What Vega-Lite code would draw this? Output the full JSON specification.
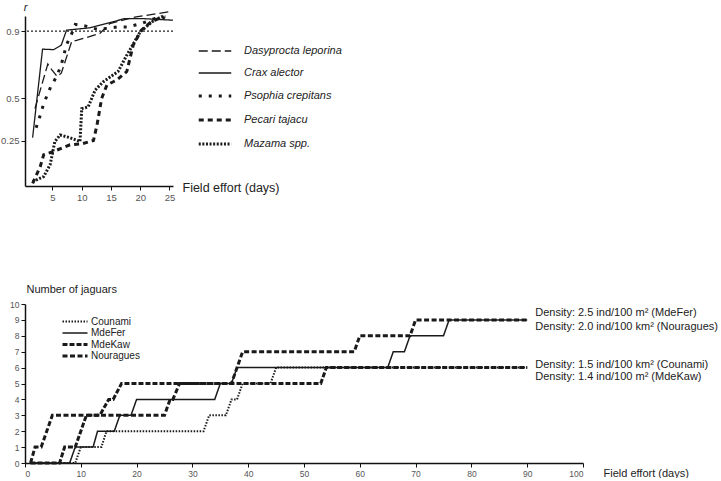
{
  "$schema": "https://vega.github.io/schema/vega-lite/v6.json",
  "padding": {"left": 0, "top": 1, "right": 0, "bottom": 0},
  "spacing": 81,
  "background": "white",
  "resolve": {
    "scale": {"strokeDash": "independent", "strokeWidth": "independent"},
    "legend": {"strokeDash": "independent", "strokeWidth": "independent"}
  },
  "config": {
    "font": "Liberation Sans",
    "view": {"stroke": null},
    "axis": {"domainColor": "#111", "domainWidth": 1.5, "tickColor": "#111", "tickWidth": 1, "tickSize": 4, "labelPadding": 2, "labelColor": "#555", "titleColor": "#222", "titleFontWeight": "normal", "grid": false, "labelOverlap": false, "labelFont": "Liberation Sans", "titleFont": "Liberation Sans"},
    "legend": {"labelFont": "Liberation Sans", "labelColor": "#222"},
    "text": {"font": "Liberation Sans"}
  },
  "datasets": {
    "top": [
      {"species": "Dasyprocta leporina", "day": 2.0, "r": 0.44},
      {"species": "Dasyprocta leporina", "day": 4.2, "r": 0.705},
      {"species": "Dasyprocta leporina", "day": 4.9, "r": 0.67},
      {"species": "Dasyprocta leporina", "day": 5.8, "r": 0.63},
      {"species": "Dasyprocta leporina", "day": 6.5, "r": 0.65},
      {"species": "Dasyprocta leporina", "day": 8.3, "r": 0.84},
      {"species": "Dasyprocta leporina", "day": 9.1, "r": 0.845},
      {"species": "Dasyprocta leporina", "day": 13.1, "r": 0.886},
      {"species": "Dasyprocta leporina", "day": 14.8, "r": 0.945},
      {"species": "Dasyprocta leporina", "day": 19.3, "r": 0.985},
      {"species": "Dasyprocta leporina", "day": 25.0, "r": 1.015},
      {"species": "Crax alector", "day": 1.6, "r": 0.267},
      {"species": "Crax alector", "day": 3.3, "r": 0.793},
      {"species": "Crax alector", "day": 5.2, "r": 0.79},
      {"species": "Crax alector", "day": 6.5, "r": 0.817},
      {"species": "Crax alector", "day": 7.4, "r": 0.906},
      {"species": "Crax alector", "day": 11.4, "r": 0.92},
      {"species": "Crax alector", "day": 17.4, "r": 0.975},
      {"species": "Crax alector", "day": 20.2, "r": 0.975},
      {"species": "Crax alector", "day": 25.6, "r": 0.965},
      {"species": "Psophia crepitans", "day": 2.2, "r": 0.326},
      {"species": "Psophia crepitans", "day": 2.9, "r": 0.40},
      {"species": "Psophia crepitans", "day": 3.5, "r": 0.47},
      {"species": "Psophia crepitans", "day": 4.7, "r": 0.57},
      {"species": "Psophia crepitans", "day": 5.7, "r": 0.63},
      {"species": "Psophia crepitans", "day": 6.5, "r": 0.70},
      {"species": "Psophia crepitans", "day": 7.4, "r": 0.82},
      {"species": "Psophia crepitans", "day": 8.3, "r": 0.886},
      {"species": "Psophia crepitans", "day": 8.9, "r": 0.94},
      {"species": "Psophia crepitans", "day": 10.7, "r": 0.93},
      {"species": "Psophia crepitans", "day": 12.8, "r": 0.91},
      {"species": "Psophia crepitans", "day": 16.2, "r": 0.925},
      {"species": "Psophia crepitans", "day": 17.9, "r": 0.925},
      {"species": "Psophia crepitans", "day": 20.2, "r": 0.945},
      {"species": "Psophia crepitans", "day": 22.5, "r": 0.975},
      {"species": "Psophia crepitans", "day": 24.2, "r": 0.98},
      {"species": "Pecari tajacu", "day": 1.6, "r": -0.004},
      {"species": "Pecari tajacu", "day": 2.9, "r": 0.095},
      {"species": "Pecari tajacu", "day": 3.5, "r": 0.166},
      {"species": "Pecari tajacu", "day": 5.1, "r": 0.184},
      {"species": "Pecari tajacu", "day": 8.0, "r": 0.225},
      {"species": "Pecari tajacu", "day": 10.0, "r": 0.23},
      {"species": "Pecari tajacu", "day": 12.0, "r": 0.25},
      {"species": "Pecari tajacu", "day": 12.6, "r": 0.34},
      {"species": "Pecari tajacu", "day": 13.4, "r": 0.5},
      {"species": "Pecari tajacu", "day": 14.3, "r": 0.58},
      {"species": "Pecari tajacu", "day": 16.0, "r": 0.61},
      {"species": "Pecari tajacu", "day": 17.7, "r": 0.66},
      {"species": "Pecari tajacu", "day": 18.8, "r": 0.817},
      {"species": "Pecari tajacu", "day": 20.2, "r": 0.906},
      {"species": "Pecari tajacu", "day": 22.0, "r": 0.96},
      {"species": "Pecari tajacu", "day": 24.0, "r": 0.985},
      {"species": "Mazama spp.", "day": 1.6, "r": 0.006},
      {"species": "Mazama spp.", "day": 3.5, "r": 0.036},
      {"species": "Mazama spp.", "day": 4.6, "r": 0.107},
      {"species": "Mazama spp.", "day": 5.4, "r": 0.244},
      {"species": "Mazama spp.", "day": 6.3, "r": 0.283},
      {"species": "Mazama spp.", "day": 8.0, "r": 0.267},
      {"species": "Mazama spp.", "day": 9.7, "r": 0.244},
      {"species": "Mazama spp.", "day": 10.0, "r": 0.44},
      {"species": "Mazama spp.", "day": 11.1, "r": 0.45},
      {"species": "Mazama spp.", "day": 12.3, "r": 0.55},
      {"species": "Mazama spp.", "day": 13.7, "r": 0.60},
      {"species": "Mazama spp.", "day": 16.2, "r": 0.66},
      {"species": "Mazama spp.", "day": 17.7, "r": 0.757},
      {"species": "Mazama spp.", "day": 20.0, "r": 0.896},
      {"species": "Mazama spp.", "day": 22.0, "r": 0.955},
      {"species": "Mazama spp.", "day": 23.6, "r": 0.985},
      {"species": "Mazama spp.", "day": 24.3, "r": 0.985}
    ],
    "bottom": [
      {"site": "Counami", "day": 1, "n": 0}, {"site": "Counami", "day": 9, "n": 0}, {"site": "Counami", "day": 10, "n": 1}, {"site": "Counami", "day": 13.7, "n": 1}, {"site": "Counami", "day": 14.6, "n": 2}, {"site": "Counami", "day": 32, "n": 2}, {"site": "Counami", "day": 33, "n": 3}, {"site": "Counami", "day": 36, "n": 3}, {"site": "Counami", "day": 37, "n": 4}, {"site": "Counami", "day": 38, "n": 4}, {"site": "Counami", "day": 39, "n": 5}, {"site": "Counami", "day": 44, "n": 5}, {"site": "Counami", "day": 45, "n": 6}, {"site": "Counami", "day": 90, "n": 6},
      {"site": "MdeFer", "day": 1, "n": 0}, {"site": "MdeFer", "day": 8, "n": 0}, {"site": "MdeFer", "day": 9, "n": 1}, {"site": "MdeFer", "day": 12.2, "n": 1}, {"site": "MdeFer", "day": 13, "n": 2}, {"site": "MdeFer", "day": 16, "n": 2}, {"site": "MdeFer", "day": 17, "n": 3}, {"site": "MdeFer", "day": 19, "n": 3}, {"site": "MdeFer", "day": 20, "n": 4}, {"site": "MdeFer", "day": 34, "n": 4}, {"site": "MdeFer", "day": 35, "n": 5}, {"site": "MdeFer", "day": 37, "n": 5}, {"site": "MdeFer", "day": 38, "n": 6}, {"site": "MdeFer", "day": 65, "n": 6}, {"site": "MdeFer", "day": 66, "n": 7}, {"site": "MdeFer", "day": 68, "n": 7}, {"site": "MdeFer", "day": 69, "n": 8}, {"site": "MdeFer", "day": 75, "n": 8}, {"site": "MdeFer", "day": 76, "n": 9}, {"site": "MdeFer", "day": 90, "n": 9},
      {"site": "MdeKaw", "day": 1, "n": 0}, {"site": "MdeKaw", "day": 6.2, "n": 0}, {"site": "MdeKaw", "day": 7.1, "n": 1}, {"site": "MdeKaw", "day": 9, "n": 1}, {"site": "MdeKaw", "day": 11, "n": 3}, {"site": "MdeKaw", "day": 13.4, "n": 3}, {"site": "MdeKaw", "day": 15, "n": 4}, {"site": "MdeKaw", "day": 15.8, "n": 4}, {"site": "MdeKaw", "day": 17.3, "n": 5}, {"site": "MdeKaw", "day": 53, "n": 5}, {"site": "MdeKaw", "day": 54, "n": 6}, {"site": "MdeKaw", "day": 90, "n": 6},
      {"site": "Nouragues", "day": 1, "n": 0}, {"site": "Nouragues", "day": 1.8, "n": 1}, {"site": "Nouragues", "day": 2.9, "n": 1}, {"site": "Nouragues", "day": 4.9, "n": 3}, {"site": "Nouragues", "day": 25, "n": 3}, {"site": "Nouragues", "day": 26, "n": 4}, {"site": "Nouragues", "day": 26.5, "n": 4}, {"site": "Nouragues", "day": 27.7, "n": 5}, {"site": "Nouragues", "day": 37, "n": 5}, {"site": "Nouragues", "day": 39, "n": 7}, {"site": "Nouragues", "day": 59, "n": 7}, {"site": "Nouragues", "day": 60, "n": 8}, {"site": "Nouragues", "day": 69, "n": 8}, {"site": "Nouragues", "day": 70, "n": 9}, {"site": "Nouragues", "day": 90, "n": 9}
    ],
    "notes": [
      {"day": 90, "n": 9.43, "label": "Density: 2.5 ind/100 m² (MdeFer)"},
      {"day": 90, "n": 8.55, "label": "Density: 2.0 ind/100 km² (Nouragues)"},
      {"day": 90, "n": 6.16, "label": "Density: 1.5 ind/100 km² (Counami)"},
      {"day": 90, "n": 5.41, "label": "Density: 1.4 ind/100 m² (MdeKaw)"}
    ]
  },
  "vconcat": [
    {
      "width": 148,
      "height": 170,
      "layer": [
        {
          "data": {"values": [{"r": 0.9}]},
          "mark": {"type": "rule", "strokeDash": [2, 2], "strokeWidth": 1.2, "color": "#222"},
          "encoding": {
            "y": {"field": "r", "type": "quantitative", "scale": {"domain": [-0.02, 0.99], "nice": false, "zero": false},
              "axis": {"values": [0.25, 0.5, 0.9], "format": ".2~f", "labelFontSize": 9.5, "title": "r", "titleFontStyle": "italic", "titleAngle": 0, "titleX": 0, "titleY": -4, "titleAlign": "center", "titleBaseline": "bottom", "titleFontSize": 11}}
          }
        },
        {
          "data": {"name": "top"},
          "mark": {"type": "line", "color": "#1a1a1a"},
          "encoding": {
            "x": {"field": "day", "type": "quantitative", "scale": {"domain": [0.3, 25.6], "nice": false, "zero": false},
              "axis": {"values": [5, 10, 15, 20, 25], "labelFontSize": 9.5, "title": "Field effort (days)", "titleX": 157, "titleY": 1, "titleAlign": "left", "titleBaseline": "middle", "titleFontSize": 12.5}},
            "y": {"field": "r", "type": "quantitative", "scale": {"domain": [-0.02, 0.99], "nice": false, "zero": false},
              "axis": {"values": [0.25, 0.5, 0.9], "format": ".2~f", "labelFontSize": 9.5, "title": "r", "titleFontStyle": "italic", "titleAngle": 0, "titleX": 0, "titleY": -4, "titleAlign": "center", "titleBaseline": "bottom", "titleFontSize": 11}},
            "strokeDash": {"field": "species", "type": "nominal",
              "scale": {"type": "ordinal", "domain": ["Dasyprocta leporina", "Crax alector", "Psophia crepitans", "Pecari tajacu", "Mazama spp."], "range": [[9, 4], [1, 0], [3, 7], [5, 4], [2, 1.6]]},
              "legend": {"title": null, "orient": "none", "legendX": 172, "legendY": 18, "symbolType": "stroke", "symbolSize": 1056, "symbolStrokeColor": "#1a1a1a", "labelFontSize": 11, "labelFontStyle": "italic", "labelOffset": 11, "rowPadding": 0}},
            "strokeWidth": {"field": "species", "type": "nominal",
              "scale": {"type": "ordinal", "domain": ["Dasyprocta leporina", "Crax alector", "Psophia crepitans", "Pecari tajacu", "Mazama spp."], "range": [1.3, 1.3, 3, 3, 3]},
              "legend": {"title": null, "orient": "none", "legendX": 172, "legendY": 18, "symbolType": "stroke", "symbolSize": 1056, "symbolStrokeColor": "#1a1a1a", "labelFontSize": 11, "labelFontStyle": "italic", "labelOffset": 11, "rowPadding": 0}}
          }
        }
      ]
    },
    {
      "width": 558,
      "height": 159,
      "layer": [
        {
          "data": {"name": "bottom"},
          "mark": {"type": "line", "color": "#1a1a1a"},
          "encoding": {
            "x": {"field": "day", "type": "quantitative", "scale": {"domain": [0, 100], "nice": false},
              "axis": {"values": [0, 10, 20, 30, 40, 50, 60, 70, 80, 90, 100], "labelFontSize": 8.5, "title": "Field effort (days)", "titleX": 578, "titleY": 10, "titleAlign": "left", "titleBaseline": "middle", "titleFontSize": 11}},
            "y": {"field": "n", "type": "quantitative", "scale": {"domain": [0, 10], "nice": false},
              "axis": {"values": [0, 1, 2, 3, 4, 5, 6, 7, 8, 9, 10], "labelFontSize": 8.5, "title": "Number of jaguars", "titleAngle": 0, "titleX": 1, "titleY": -15, "titleAlign": "left", "titleBaseline": "middle", "titleFontSize": 11}},
            "strokeDash": {"field": "site", "type": "nominal",
              "scale": {"type": "ordinal", "domain": ["Counami", "MdeFer", "MdeKaw", "Nouragues"], "range": [[1.5, 1.5], [1, 0], [5, 2], [5, 2.5]]},
              "legend": {"title": null, "orient": "none", "legendX": 36, "legendY": 12, "symbolType": "stroke", "symbolSize": 625, "symbolStrokeColor": "#1a1a1a", "labelFontSize": 10, "labelOffset": 2, "rowPadding": 0.5, "clipHeight": 11}},
            "strokeWidth": {"field": "site", "type": "nominal",
              "scale": {"type": "ordinal", "domain": ["Counami", "MdeFer", "MdeKaw", "Nouragues"], "range": [2, 1.5, 3, 3]},
              "legend": {"title": null, "orient": "none", "legendX": 36, "legendY": 12, "symbolType": "stroke", "symbolSize": 625, "symbolStrokeColor": "#1a1a1a", "labelFontSize": 10, "labelOffset": 2, "rowPadding": 0.5, "clipHeight": 11}}
          }
        },
        {
          "data": {"name": "notes"},
          "mark": {"type": "text", "align": "left", "baseline": "middle", "dx": 8, "fontSize": 11, "color": "#222"},
          "encoding": {
            "x": {"field": "day", "type": "quantitative", "scale": {"domain": [0, 100], "nice": false},
              "axis": {"values": [0, 10, 20, 30, 40, 50, 60, 70, 80, 90, 100], "labelFontSize": 8.5, "title": "Field effort (days)", "titleX": 578, "titleY": 10, "titleAlign": "left", "titleBaseline": "middle", "titleFontSize": 11}},
            "y": {"field": "n", "type": "quantitative", "scale": {"domain": [0, 10], "nice": false},
              "axis": {"values": [0, 1, 2, 3, 4, 5, 6, 7, 8, 9, 10], "labelFontSize": 8.5, "title": "Number of jaguars", "titleAngle": 0, "titleX": 1, "titleY": -15, "titleAlign": "left", "titleBaseline": "middle", "titleFontSize": 11}},
            "text": {"field": "label", "type": "nominal"}
          }
        }
      ]
    }
  ]
}
